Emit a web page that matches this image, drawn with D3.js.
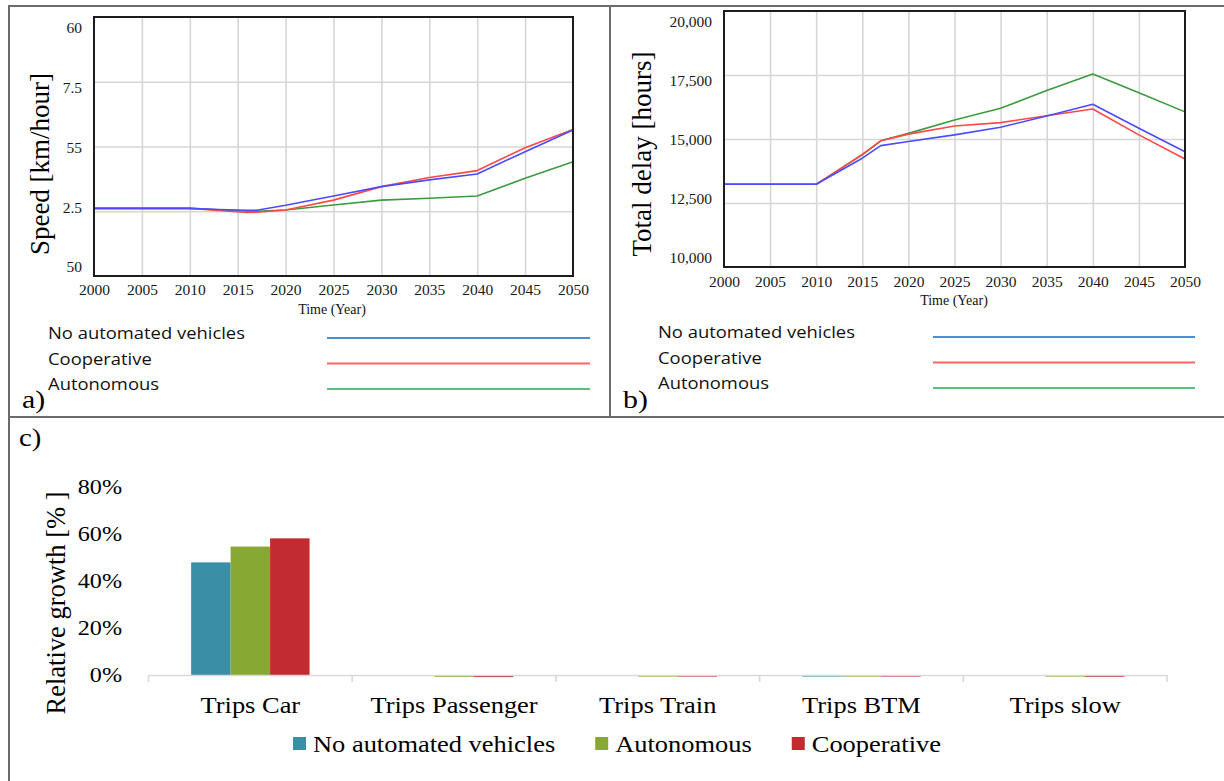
<!DOCTYPE html>
<html>
<head>
<meta charset="utf-8">
<script src="https://cdn.jsdelivr.net/npm/d3@7"></script>
<style>
  html, body { margin: 0; padding: 0; background: #fff; }
  svg { display: block; }
</style>
</head>
<body>
<svg id="fig" width="1224" height="781"></svg>
<script>
// ---- Data ---------------------------------------------------------------
const scenarioNames = ["No automated vehicles", "Cooperative", "Autonomous"];

// a) average speed [km/hour]
const speedYears = [2000, 2010, 2013, 2016, 2017, 2020, 2025, 2030, 2035, 2040, 2045, 2050];
const speedNone  = [52.61, 52.61, 52.57, 52.54, 52.54, 52.73, 53.09, 53.45, 53.71, 53.94, 54.80, 55.64];
const speedCoop  = [52.61, 52.61, 52.53, 52.45, 52.46, 52.55, 52.93, 53.45, 53.80, 54.07, 54.95, 55.66];
const speedAuto  = [52.61, 52.61, 52.56, 52.50, 52.50, 52.55, 52.74, 52.93, 53.00, 53.09, 53.77, 54.41];
const speedTickValues = [50, 52.5, 55, 57.5, 60];
const speedTickLabels = ["50", "2.5", "55", "7.5", "60"];

// b) total delay [hours]
const delayYears = [2000, 2010, 2015, 2017, 2020, 2025, 2030, 2035, 2040, 2045, 2050];
const delayNone  = [13230, 13230, 14250, 14740, 14900, 15160, 15460, 15900, 16360, 15420, 14500];
const delayCoop  = [13230, 13230, 14400, 14930, 15190, 15510, 15640, 15910, 16170, 15160, 14220];
const delayAuto  = [13230, 13230, 14380, 14930, 15220, 15740, 16200, 16890, 17540, 16810, 16060];
const delayTickValues = [10000, 12500, 15000, 17500, 20000];
const delayTickLabels = ["10,000", "12,500", "15,000", "17,500", "20,000"];

const yearTicks = [2000, 2005, 2010, 2015, 2020, 2025, 2030, 2035, 2040, 2045, 2050];

// c) relative growth of trips [%]
const tripCategories = ["Trips Car", "Trips Passenger", "Trips Train", "Trips BTM", "Trips slow"];
const barSeries = ["No automated vehicles", "Autonomous", "Cooperative"];
const growthNone = [47.8, 0.0, -0.3, -0.7, -0.3];
const growthAuto = [54.5, -0.8, -0.7, -0.7, -0.7];
const growthCoop = [58.0, -0.9, -0.7, -0.7, -0.8];
const growthTicks = [0, 20, 40, 60, 80];

// ---- Styling ------------------------------------------------------------
const SERIF = "'Liberation Serif','Times New Roman',serif";
const SANS = "'Open Sans','Noto Sans',sans-serif";
const STRETCH = 1.15;
const lineColors = { "No automated vehicles": "#4b4bff", "Cooperative": "#ff4848", "Autonomous": "#3d9b3d" };
const legendLineColors = { "No automated vehicles": "#4a8ed6", "Cooperative": "#ff6464", "Autonomous": "#55c27f" };
const barColors = { "No automated vehicles": "#3a8fa7", "Autonomous": "#87a934", "Cooperative": "#c22b2f" };

const svg = d3.select("#fig");

// ---- Table frame ----------------------------------------------------------
const frame = svg.append("g").attr("stroke", "#6b6b6b").attr("stroke-width", 2);
frame.append("line").attr("x1", 8).attr("x2", 1224).attr("y1", 6).attr("y2", 6);
frame.append("line").attr("x1", 9).attr("x2", 9).attr("y1", 5).attr("y2", 781);
frame.append("line").attr("x1", 610).attr("x2", 610).attr("y1", 5).attr("y2", 417);
frame.append("line").attr("x1", 8).attr("x2", 1224).attr("y1", 417).attr("y2", 417);

function stretchedText(g, x, y, s, size, family, opts = {}) {
  return g.append("text")
    .attr("transform", `translate(${x},${y}) scale(${opts.sx || 1},1)`)
    .attr("font-family", family)
    .attr("font-size", size)
    .attr("fill", opts.fill || "#000")
    .attr("text-anchor", opts.anchor || "start")
    .attr("dy", "0.35em")
    .text(s);
}

// ---- Line panels (a, b) --------------------------------------------------------
function linePanel(cfg) {
  const g = svg.append("g");
  const x = d3.scaleLinear().domain([2000, 2050]).range([cfg.x0, cfg.x1]);
  const y = d3.scaleLinear().domain(cfg.yDomain).range([cfg.y1, cfg.y0]);
  const yLab = d3.scaleLinear().domain(cfg.yDomain).range(cfg.labRange);

  // grid
  const gx = g.append("g").attr("transform", `translate(0,${cfg.y1})`)
    .call(d3.axisBottom(x).tickValues(yearTicks.slice(1, -1)).tickSize(-(cfg.y1 - cfg.y0)).tickFormat(""));
  const gy = g.append("g").attr("transform", `translate(${cfg.x0},0)`)
    .call(d3.axisLeft(y).tickValues(cfg.tickValues.slice(1, -1)).tickSize(-(cfg.x1 - cfg.x0)).tickFormat(""));
  [gx, gy].forEach(a => {
    a.select(".domain").remove();
    a.selectAll("line").attr("stroke", "#d6d6d6").attr("stroke-width", 1.6);
  });

  // series
  const line = d3.line().x(d => x(d[0])).y(d => y(d[1]));
  cfg.series.slice().reverse().forEach(s => {
    g.append("path")
      .datum(cfg.years.map((yr, i) => [yr, s.values[i]]))
      .attr("d", line)
      .attr("fill", "none")
      .attr("stroke", lineColors[s.name])
      .attr("stroke-width", 1.6)
      .attr("stroke-linejoin", "round");
  });

  // plot border
  g.append("rect")
    .attr("x", cfg.x0).attr("y", cfg.y0)
    .attr("width", cfg.x1 - cfg.x0).attr("height", cfg.y1 - cfg.y0)
    .attr("fill", "none").attr("stroke", "#1c1c1c").attr("stroke-width", 2);

  // tick labels
  const xl = g.append("g").attr("transform", `translate(0,${cfg.xLabY})`)
    .call(d3.axisBottom(x).tickValues(yearTicks).tickSize(0).tickFormat(d3.format("d")));
  xl.select(".domain").remove();
  xl.selectAll("text").attr("y", 0).attr("dy", "0.35em");

  const yl = g.append("g").attr("transform", `translate(${cfg.labRight},0)`)
    .call(d3.axisLeft(yLab).tickValues(cfg.tickValues).tickSize(0).tickPadding(0)
      .tickFormat((d, i) => cfg.tickLabels[i]));
  yl.select(".domain").remove();

  [xl, yl].forEach(a => a.attr("font-family", SERIF).attr("font-size", 15.5)
    .selectAll("text").attr("fill", "#1a1a1a"));

  stretchedText(g, cfg.timeX, cfg.timeY, "Time (Year)", 14, SERIF, { anchor: "middle", fill: "#111" });

  g.append("text")
    .attr("transform", `translate(${cfg.titleX},${cfg.titleY}) rotate(-90)`)
    .attr("text-anchor", "middle").attr("dy", "0.35em")
    .attr("font-family", SERIF).attr("font-size", 27)
    .text(cfg.yTitle);

  // legend rows
  cfg.series.forEach((s, i) => {
    const cy = cfg.legY[i];
    stretchedText(g, cfg.legTextX, cy, s.name, 16, SANS, { sx: STRETCH, fill: "#111" });
    g.append("line")
      .attr("x1", cfg.legLine[0]).attr("x2", cfg.legLine[1])
      .attr("y1", cy + 4.5).attr("y2", cy + 4.5)
      .attr("stroke", legendLineColors[s.name]).attr("stroke-width", 2);
  });

  stretchedText(g, cfg.tagX, 399, cfg.tag, 26, SERIF, { sx: STRETCH });
}

linePanel({
  x0: 94, x1: 573, y0: 17, y1: 276,
  yDomain: [50, 60], labRange: [267, 28], labRight: 82,
  tickValues: speedTickValues, tickLabels: speedTickLabels,
  xLabY: 290, timeX: 332, timeY: 309,
  yTitle: "Speed [km/hour]", titleX: 40, titleY: 164,
  years: speedYears,
  series: [
    { name: "No automated vehicles", values: speedNone },
    { name: "Cooperative", values: speedCoop },
    { name: "Autonomous", values: speedAuto }
  ],
  legTextX: 48, legY: [333.5, 359, 384.5], legLine: [327, 590],
  tag: "a)", tagX: 22
});

linePanel({
  x0: 724, x1: 1185, y0: 11, y1: 267,
  yDomain: [10000, 20000], labRange: [258, 22], labRight: 712,
  tickValues: delayTickValues, tickLabels: delayTickLabels,
  xLabY: 282, timeX: 954, timeY: 300,
  yTitle: "Total delay [hours]", titleX: 642, titleY: 154,
  years: delayYears,
  series: [
    { name: "No automated vehicles", values: delayNone },
    { name: "Cooperative", values: delayCoop },
    { name: "Autonomous", values: delayAuto }
  ],
  legTextX: 658, legY: [332.5, 358, 383.5], legLine: [933, 1195],
  tag: "b)", tagX: 623
});

// ---- Bar panel (c) -----------------------------------------------------------
const gc = svg.append("g");
stretchedText(gc, 19, 437, "c)", 25, SERIF, { sx: STRETCH });

const xc = d3.scaleBand().domain(tripCategories).range([148.5, 1167]).paddingInner(0).paddingOuter(0);
const xs = d3.scaleBand().domain(barSeries).range([0, xc.bandwidth()]).paddingInner(0).paddingOuter(1.08);
const yc = d3.scaleLinear().domain([0, 80]).range([675, 486.5]);

const growthBySeries = {
  "No automated vehicles": growthNone,
  "Autonomous": growthAuto,
  "Cooperative": growthCoop
};

tripCategories.forEach((cat, ci) => {
  barSeries.forEach(s => {
    const v = growthBySeries[s][ci];
    gc.append("rect")
      .attr("x", xc(cat) + xs(s))
      .attr("width", xs.bandwidth())
      .attr("y", Math.min(yc(v), yc(0)))
      .attr("height", Math.abs(yc(v) - yc(0)))
      .attr("fill", barColors[s]);
  });
});

// category axis
const cx = gc.append("g").attr("transform", `translate(0,${yc(0)})`)
  .call(d3.axisBottom(xc).tickSize(0).tickPadding(0));
cx.select(".domain").attr("stroke", "#d9d9d9").attr("stroke-width", 1.6);
cx.selectAll(".tick line").remove();
cx.selectAll(".tick text")
  .attr("y", 31).attr("dy", "0.32em")
  .attr("transform", `scale(${STRETCH},1)`)
  .attr("fill", "#000");
cx.attr("font-family", SERIF).attr("font-size", 23);

// boundary ticks between categories
const bounds = tripCategories.map(c => xc(c)).concat([xc.range()[1]]);
gc.append("g").selectAll("line").data(bounds).join("line")
  .attr("x1", d => d).attr("x2", d => d)
  .attr("y1", yc(0)).attr("y2", yc(0) + 7)
  .attr("stroke", "#d9d9d9").attr("stroke-width", 1.6);

// value axis labels
const cy = gc.append("g").attr("transform", "translate(122,0)")
  .call(d3.axisLeft(yc).tickValues(growthTicks).tickSize(0).tickPadding(0).tickFormat(d => d + "%"));
cy.select(".domain").remove();
cy.selectAll("text").attr("transform", `scale(${STRETCH},1)`).attr("fill", "#000");
cy.attr("font-family", SERIF).attr("font-size", 21);

gc.append("text")
  .attr("transform", "translate(56,603) rotate(-90)")
  .attr("text-anchor", "middle").attr("dy", "0.35em")
  .attr("font-family", SERIF).attr("font-size", 26.5)
  .text("Relative growth [% ]");

// legend
let lx = 293;
barSeries.forEach(s => {
  gc.append("rect").attr("x", lx).attr("y", 737).attr("width", 13).attr("height", 13).attr("fill", barColors[s]);
  const t = stretchedText(gc, lx + 20, 744, s, 23, SERIF, { sx: STRETCH });
  lx += 20 + t.node().getComputedTextLength() * STRETCH + 40;
});
</script>
</body>
</html>
